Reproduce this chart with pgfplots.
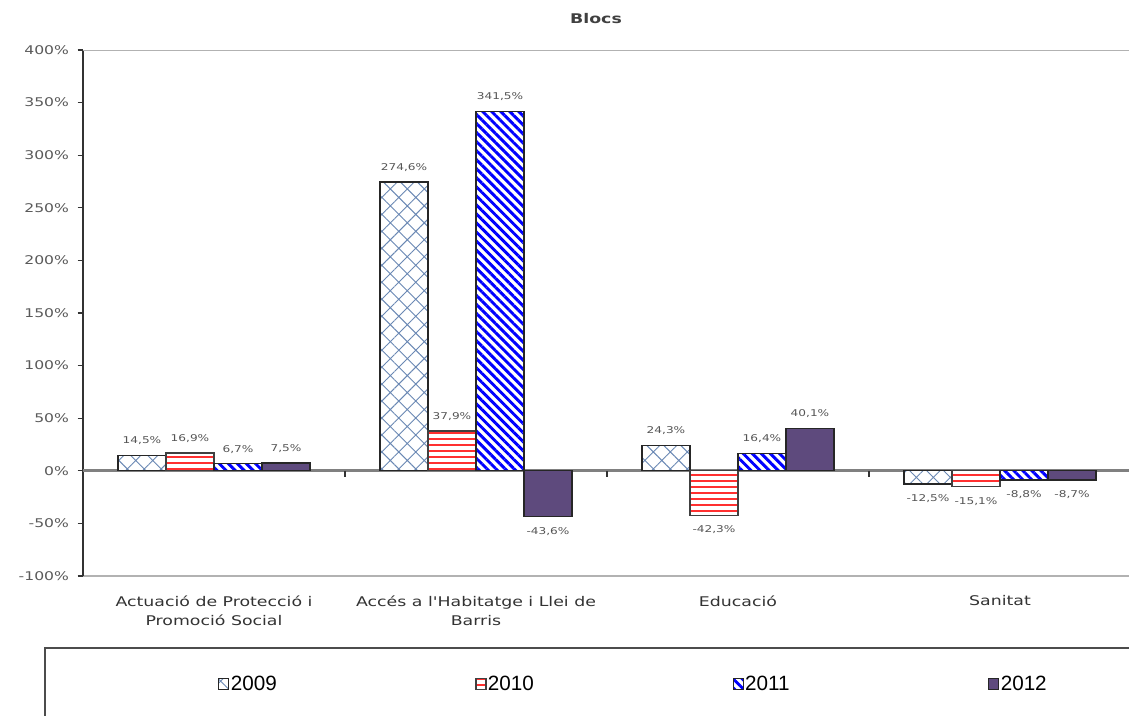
\documentclass[border=0pt]{standalone}
\usepackage{fontspec}
\usepackage{pgfplots}
\usepackage{pgfplotstable}
\pgfplotsset{compat=1.18}
\usetikzlibrary{patterns.meta}
\newfontfamily\vfont[FakeStretch=1.3]{DejaVu Sans}
\newfontfamily\lfont{Liberation Sans}
\definecolor{c09}{HTML}{6A88B4}
\definecolor{c10}{HTML}{FF3030}
\definecolor{c11}{HTML}{0000FF}
\definecolor{c12}{HTML}{5E4A7D}
\definecolor{tickgray}{HTML}{5A5A5A}
\definecolor{labgray}{HTML}{555555}
\pgfplotstableread{
x y09 y10 y11 y12
0 14.5 16.9 6.7 7.5
1 274.6 37.9 341.5 -43.6
2 24.3 -42.3 16.4 40.1
3 -12.5 -15.1 -8.8 -8.7
}\data
\begin{document}
\begin{tikzpicture}
\path[use as bounding box] (0,0) rectangle (846.75pt,-536.25pt);
\node[font=\vfont\bfseries\fontsize{10}{12}\selectfont, text=black!75] at (447pt,-14.25pt) {Blocs};
\draw[black!70, line width=1.5pt] (33.75pt,-486pt) rectangle (860pt,-545pt);
\begin{axis}[
  at={(62.25pt,-432pt)}, anchor=south west,
  scale only axis, width=786pt, height=394.5pt,
  ybar=0pt, bar width=36pt,
  xmin=-0.5, xmax=3.5, ymin=-100, ymax=400,
  ytick={-100,-50,...,400},
  xtick={0,1,2,3},
  xticklabels={{Actuació de Protecció i\\Promoció Social},{Accés a l'Habitatge i Llei de\\Barris},{Educació},{Sanitat}},
  axis lines*=left,
  x axis line style={draw=gray!60, line width=1.1pt},
  y axis line style={draw=black!80, line width=1.5pt},
  xtick style={draw=none},
  ytick style={draw=black!80, line width=1pt},
  tick align=outside, major tick length=4pt,
  /pgf/number format/assume math mode=true,
  yticklabel={\pgfmathprintnumber{\tick}\%},
  yticklabel style={font=\vfont\fontsize{9}{10}\selectfont, text=tickgray, xshift=-3pt},
  xticklabel style={font=\vfont\fontsize{10}{14.25}\selectfont, text=black!80, align=center, yshift=-7pt},
  nodes near coords={\pgfmathprintnumber[fixed,fixed zerofill,precision=1,use comma,assume math mode=true]{\pgfplotspointmeta}\%},
  every node near coord/.append style={font=\vfont\fontsize{7}{8}\selectfont, text=labgray, inner ysep=7.5pt},
  legend style={at={(0.1288,-0.2053)}, anchor=west, draw=none, fill=none, legend columns=4,
    font=\lfont\fontsize{15.5}{18}\selectfont, inner sep=0pt,
    /tikz/every even column/.append style={column sep=148pt}, nodes={inner xsep=1pt}},
  legend image code/.code={\draw[#1] (0pt,-4pt) rectangle (7.5pt,4pt);},
]
\draw[gray!60, line width=1.1pt] (axis cs:-0.5,400) -- (axis cs:3.5,400);
\draw[gray, line width=2.2pt] (axis cs:-0.5,0) -- (axis cs:3.5,0);
\draw[black!80, line width=1pt] (axis cs:0.5,0) -- ++(0pt,-4.5pt);
\draw[black!80, line width=1pt] (axis cs:1.5,0) -- ++(0pt,-4.5pt);
\draw[black!80, line width=1pt] (axis cs:2.5,0) -- ++(0pt,-4.5pt);
\addplot[draw=black!85, line width=0.9pt, fill=white, postaction={pattern={Hatch[angle=45,distance=9pt,line width=0.7pt]}, pattern color=c09}] table[x=x,y=y09]{\data};
\addplot[draw=black!75, line width=0.9pt, fill=white, postaction={pattern={Lines[angle=0,distance=4.5pt,line width=1.4pt]}, pattern color=c10}] table[x=x,y=y10]{\data};
\addplot[draw=black!85, line width=0.9pt, fill=white, postaction={pattern={Lines[angle=-45,distance=4.8pt,line width=2.2pt]}, pattern color=c11}] table[x=x,y=y11]{\data};
\addplot[draw=black!85, line width=0.9pt, fill=c12] table[x=x,y=y12]{\data};
\legend{2009,2010,2011,2012}
\end{axis}
\end{tikzpicture}
\end{document}
